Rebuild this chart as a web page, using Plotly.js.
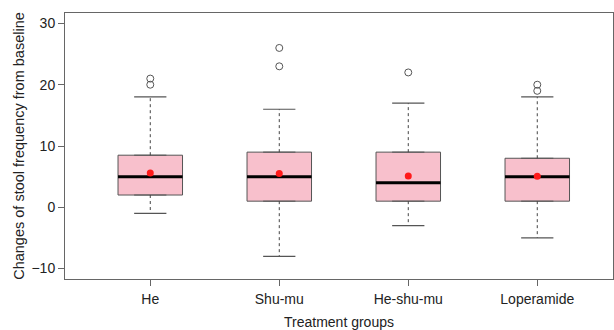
<!DOCTYPE html>
<html>
<head>
<meta charset="utf-8">
<script src="https://cdn.plot.ly/plotly-3.0.1.min.js"></script>
<style>html,body{margin:0;padding:0;background:#fff;}#chart{width:614px;height:330px;}</style>
</head>
<body>
<div id="chart"></div>
<script>
const groups = ["He", "Shu-mu", "He-shu-mu", "Loperamide"];
const q1 = [2, 1, 1, 1];
const medians = [5, 5, 4, 5];
const q3 = [8.5, 9, 9, 8];
const lowerWhisker = [-1, -8, -3, -5];
const upperWhisker = [18, 16, 17, 18];
const means = [5.6, 5.5, 5.1, 5.05];
const outliers = [[20, 21], [23, 26], [22], [19, 20]];

const pos = groups.map((g, i) => i + 1);
const boxW = 0.5;
const capW = boxW / 2;
const edge = '#555555';

const traces = [];
// boxes
groups.forEach((g, i) => {
  traces.push({
    type: 'box', x: [pos[i]], q1: [q1[i]], median: [medians[i]], q3: [q3[i]],
    lowerfence: [q1[i]], upperfence: [q3[i]], width: boxW,
    fillcolor: '#F8C0CC', line: {color: edge, width: 1},
    boxpoints: false, hoverinfo: 'skip', showlegend: false
  });
});
// whiskers (dashed)
const wx = [], wy = [];
groups.forEach((g, i) => {
  wx.push(pos[i], pos[i], null, pos[i], pos[i], null);
  wy.push(q3[i], upperWhisker[i], null, q1[i], lowerWhisker[i], null);
});
traces.push({type: 'scatter', mode: 'lines', x: wx, y: wy, line: {color: '#444', width: 1, dash: '3px,3px'}, hoverinfo: 'skip', showlegend: false});
// caps
const cx = [], cy = [];
groups.forEach((g, i) => {
  cx.push(pos[i] - capW / 2, pos[i] + capW / 2, null, pos[i] - capW / 2, pos[i] + capW / 2, null);
  cy.push(upperWhisker[i], upperWhisker[i], null, lowerWhisker[i], lowerWhisker[i], null);
});
traces.push({type: 'scatter', mode: 'lines', x: cx, y: cy, line: {color: edge, width: 1.2}, hoverinfo: 'skip', showlegend: false});
// medians
const mx = [], my = [];
groups.forEach((g, i) => {
  mx.push(pos[i] - boxW / 2, pos[i] + boxW / 2, null);
  my.push(medians[i], medians[i], null);
});
traces.push({type: 'scatter', mode: 'lines', x: mx, y: my, line: {color: '#000', width: 3}, hoverinfo: 'skip', showlegend: false});
// outliers
const ox = [], oy = [];
outliers.forEach((arr, i) => arr.forEach(v => { ox.push(pos[i]); oy.push(v); }));
traces.push({type: 'scatter', mode: 'markers', x: ox, y: oy, marker: {symbol: 'circle-open', size: 7, color: '#555', line: {width: 1}}, showlegend: false});
// means
traces.push({type: 'scatter', mode: 'markers', x: pos, y: means, marker: {color: '#FF1A1A', size: 7}, showlegend: false});

const layout = {
  width: 614, height: 330,
  margin: {l: 65, r: 1, t: 13, b: 51},
  paper_bgcolor: '#fff', plot_bgcolor: '#fff',
  font: {family: 'Liberation Sans, Arial, sans-serif', size: 14, color: '#222'},
  showlegend: false,
  xaxis: {
    range: [0.339, 4.587], tickvals: pos, ticktext: groups,
    showgrid: false, zeroline: false, showline: true, mirror: true,
    linecolor: '#666', linewidth: 1, ticks: 'outside', ticklen: 6, tickcolor: '#666',
    tickfont: {size: 14, color: '#222'}, ticklabelstandoff: 1,
    title: {text: 'Treatment groups', font: {size: 14, color: '#222'}, standoff: 11}
  },
  yaxis: {
    range: [-11.7, 31.7], tickvals: [-10, 0, 10, 20, 30], ticktext: ['\u221210', '0', '10', '20', '30'],
    showgrid: false, zeroline: false, showline: true, mirror: true,
    linecolor: '#666', linewidth: 1, ticks: 'outside', ticklen: 6, tickcolor: '#666',
    tickfont: {size: 14, color: '#222'},
    title: {text: 'Changes of stool frequency from baseline', font: {size: 14.5, color: '#222'}, standoff: 3}
  }
};
Plotly.newPlot('chart', traces, layout, {displayModeBar: false, staticPlot: true});
</script>
</body>
</html>
